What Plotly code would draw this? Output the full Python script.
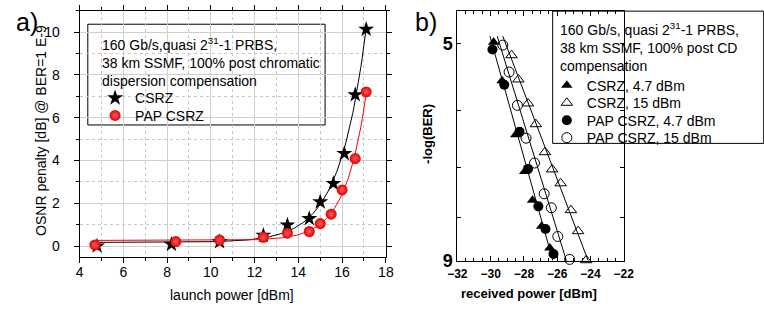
import numpy as np
import plotly.graph_objects as go

W, H = 764, 321
def fx(p): return p / W
def fy(p): return 1 - p / H

FONT = "Liberation Sans, Arial, sans-serif"

# ---------------- Panel a data ----------------
csrz_launch = [4.8, 8.2, 10.4, 12.4, 13.5, 14.5, 15.0, 15.6, 16.1, 16.6, 17.1]
csrz_penalty = [0.0, 0.08, 0.2, 0.5, 0.98, 1.28, 2.06, 2.92, 4.32, 7.07, 10.13]
pap_launch = [4.7, 8.4, 10.4, 12.4, 13.5, 14.5, 15.0, 15.5, 16.0, 16.6, 17.1]
pap_penalty = [0.05, 0.21, 0.28, 0.41, 0.6, 0.68, 1.05, 1.49, 2.62, 4.09, 7.2]

# ---------------- Panel b data ----------------
csrz47_p = [-29.82, -29.31, -28.49, -27.95, -27.48, -26.93, -26.44]
csrz47_b = [4.98, 5.53, 6.40, 7.07, 7.64, 8.20, 8.70]
pap47_p = [-29.89, -29.18, -28.26, -27.75, -27.13, -26.70, -26.22]
pap47_b = [5.08, 5.59, 6.35, 7.02, 7.77, 8.26, 8.84]
csrz15_p = [-28.74, -28.33, -27.75, -27.28, -26.73, -26.30, -25.79, -25.17, -24.74, -24.25]
csrz15_b = [5.16, 5.51, 5.88, 6.22, 6.71, 7.03, 7.30, 7.85, 8.31, 8.99]
pap15_p = [-29.27, -28.89, -28.39, -27.87, -27.36, -26.78, -26.35, -25.96, -25.25]
pap15_b = [5.02, 5.40, 5.91, 6.46, 6.91, 7.51, 7.80, 8.43, 8.97]

header_a = "160 Gb/s,quasi 2<sup>31</sup>-1 PRBS,<br>38 km SSMF, 100% post chromatic<br>dispersion compensation"
header_b = "160 Gb/s, quasi 2<sup>31</sup>-1 PRBS,<br>38 km SSMF, 100% post CD<br>compensation"


def expfit(x, y):
    x = np.asarray(x, float); y = np.asarray(y, float)
    best = None
    for t in np.linspace(0.2, 4, 500):
        M = np.column_stack([np.ones_like(x), np.exp((x - x.max()) / t)])
        coef, *_ = np.linalg.lstsq(M, y, rcond=None)
        err = np.sum((M @ coef - y) ** 2)
        if best is None or err < best[0]:
            best = (err, t, coef)
    _, t, coef = best
    xs = np.linspace(x.min(), x.max(), 200)
    return xs, coef[0] + coef[1] * np.exp((xs - x.max()) / t)


def linfit(p, b, ylo=4.9, yhi=9.05):
    lb = np.log10(np.asarray(b, float))
    k, c = np.polyfit(lb, np.asarray(p, float), 1)
    ys = np.array([ylo, yhi])
    return k * np.log10(ys) + c, ys


fig = go.Figure()

# panel a fits
for xs_, ys_, col in [(csrz_launch, csrz_penalty, "black"), (pap_launch, pap_penalty, "red")]:
    fxs, fys = expfit(xs_, ys_)
    fig.add_trace(go.Scatter(x=fxs, y=fys, mode="lines", line=dict(color=col, width=1),
                             showlegend=False, hoverinfo="skip", xaxis="x", yaxis="y"))

fig.add_trace(go.Scatter(x=csrz_launch, y=csrz_penalty, mode="markers", name="CSRZ",
                         marker=dict(symbol="star", size=12, color="black"),
                         xaxis="x", yaxis="y", legend="legend", cliponaxis=False))
fig.add_trace(go.Scatter(x=pap_launch, y=pap_penalty, mode="markers", name="PAP CSRZ",
                         marker=dict(symbol="circle", size=11, color="#e00000",
                                     gradient=dict(type="radial", color="#ff6060"),
                                     line=dict(width=0)),
                         xaxis="x", yaxis="y", legend="legend2", cliponaxis=False))

# panel b fits
for p_, b_ in [(csrz47_p + pap47_p, csrz47_b + pap47_b), (pap15_p, pap15_b), (csrz15_p, csrz15_b)]:
    lx, ly = linfit(p_, b_)
    fig.add_trace(go.Scatter(x=lx, y=ly, mode="lines", line=dict(color="black", width=1),
                             showlegend=False, hoverinfo="skip", xaxis="x2", yaxis="y2"))

ms = 10
fig.add_trace(go.Scatter(x=csrz47_p, y=csrz47_b, mode="markers", name="CSRZ, 4.7 dBm",
                         marker=dict(symbol="triangle-up", size=ms, color="black"),
                         xaxis="x2", yaxis="y2", legend="legend3", cliponaxis=False))
fig.add_trace(go.Scatter(x=csrz15_p, y=csrz15_b, mode="markers", name="CSRZ, 15 dBm",
                         marker=dict(symbol="triangle-up-open", size=ms, color="black", line=dict(width=1)),
                         xaxis="x2", yaxis="y2", legend="legend4", cliponaxis=False))
fig.add_trace(go.Scatter(x=pap47_p, y=pap47_b, mode="markers", name="PAP CSRZ, 4.7 dBm",
                         marker=dict(symbol="circle", size=ms, color="black"),
                         xaxis="x2", yaxis="y2", legend="legend5", cliponaxis=False))
fig.add_trace(go.Scatter(x=pap15_p, y=pap15_b, mode="markers", name="PAP CSRZ, 15 dBm",
                         marker=dict(symbol="circle-open", size=ms, color="black", line=dict(width=1)),
                         xaxis="x2", yaxis="y2", legend="legend6", cliponaxis=False))

tf = dict(family=FONT, size=14, color="black")
bold12 = dict(family=FONT, size=12, color="black", weight="bold")


def leg(xp, ytop):
    return dict(x=fx(xp), y=fy(ytop), xanchor="left", yanchor="top", bgcolor="rgba(0,0,0,0)",
                borderwidth=0, font=dict(family=FONT, size=14, color="black"),
                itemsizing="trace")


fig.update_layout(
    width=W, height=H, margin=dict(l=0, r=0, t=0, b=0),
    paper_bgcolor="white", plot_bgcolor="white",
    font=dict(family=FONT, size=14, color="black"),
    xaxis=dict(domain=[fx(71.5), fx(386.5)], range=[4, 18], tick0=4, dtick=2,
               ticks="outside", ticklen=5, tickcolor="black", showline=True, linecolor="black",
               mirror="ticks", showgrid=True, gridcolor="#cfcfcf", zeroline=False, tickfont=tf,
               ticklabelstandoff=-3,
               minor=dict(dtick=1, ticks="outside", ticklen=3, tickcolor="black", showgrid=True,
                          gridcolor="#c8c8c8", griddash="dot")),
    yaxis=dict(domain=[fy(265), fy(11)], range=[-0.5, 11], tick0=0, dtick=2,
               ticks="outside", ticklen=5, tickcolor="black", showline=True, linecolor="black",
               mirror="ticks", showgrid=True, gridcolor="#cfcfcf", zeroline=False, tickfont=tf,
               ticklabelstandoff=11,
               minor=dict(dtick=1, ticks="outside", ticklen=3, tickcolor="black", showgrid=True,
                          gridcolor="#c8c8c8", griddash="dot")),
    xaxis2=dict(domain=[fx(460), fx(631)], range=[-32, -22], tick0=-32, dtick=2, anchor="y2",
                ticks="inside", ticklen=5, tickcolor="black", showline=True, linecolor="black",
                mirror="ticks", showgrid=False, zeroline=False, tickfont=bold12,
                ticklabelstandoff=2,
                minor=dict(dtick=0.5, ticks="inside", ticklen=3, tickcolor="black")),
    yaxis2=dict(domain=[fy(269), fy(11)], type="log", range=[np.log10(9), 0.6602], anchor="x2",
                tickvals=[5, 6, 7, 8, 9], ticktext=["5", "", "", "", "9"],
                ticks="inside", ticklen=4, tickcolor="black", showline=True, linecolor="black",
                mirror="ticks", showgrid=False, zeroline=False,
                tickfont=dict(family=FONT, size=18, color="black", weight="bold")),
    legend=leg(87.5, 85), legend2=leg(87.5, 103),
    legend3=leg(552, 72), legend4=leg(552, 90), legend5=leg(552, 108), legend6=leg(552, 126),
    shapes=[
        dict(type="rect", xref="paper", yref="paper", x0=fx(80), x1=fx(324), y0=fy(129), y1=fy(25),
             line=dict(color="black", width=1), fillcolor="white", layer="between"),
        dict(type="rect", xref="paper", yref="paper", x0=fx(558), x1=fx(775), y0=fy(148), y1=fy(11.5),
             line=dict(color="black", width=1), fillcolor="white", layer="between"),
    ],
    annotations=[
        dict(text=header_a, x=fx(93), y=fy(34), xref="paper", yref="paper", xanchor="left",
             yanchor="top", align="left", showarrow=False, font=tf),
        dict(text=header_b, x=fx(564), y=fy(19), xref="paper", yref="paper", xanchor="left",
             yanchor="top", align="left", showarrow=False, font=tf),
        dict(text="a)", x=fx(4), y=fy(23), xref="paper", yref="paper", xanchor="left", yanchor="middle",
             showarrow=False, font=dict(family=FONT, size=25, color="black")),
        dict(text="b)", x=fx(414), y=fy(23), xref="paper", yref="paper", xanchor="left", yanchor="middle",
             showarrow=False, font=dict(family=FONT, size=25, color="black")),
        dict(text="OSNR penalty [dB] @ BER=1 E-9", x=fx(32), y=fy(135), xref="paper", yref="paper",
             textangle=-90, showarrow=False, xanchor="center", yanchor="middle", font=tf),
        dict(text="launch power [dBm]", x=fx(228), y=fy(305), xref="paper", yref="paper",
             showarrow=False, xanchor="center", yanchor="middle", font=tf),
        dict(text="-log(BER)", x=fx(430), y=fy(138), xref="paper", yref="paper", textangle=-90,
             showarrow=False, xanchor="center", yanchor="middle",
             font=dict(family=FONT, size=13, color="black", weight="bold")),
        dict(text="received power [dBm]", x=fx(534), y=fy(303), xref="paper", yref="paper",
             showarrow=False, xanchor="center", yanchor="middle",
             font=dict(family=FONT, size=13, color="black", weight="bold")),
    ],
)

fig.write_html("out.html")
